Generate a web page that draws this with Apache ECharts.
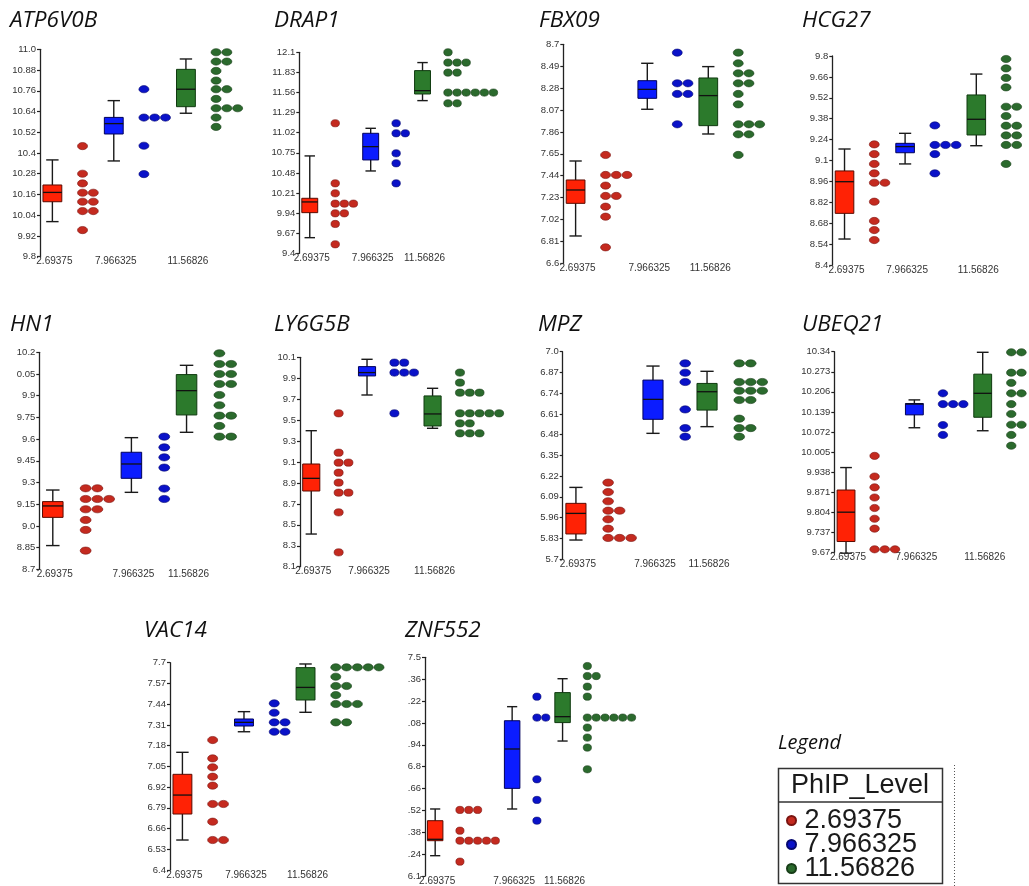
<!DOCTYPE html>
<html><head><meta charset="utf-8">
<script src="https://cdn.jsdelivr.net/npm/echarts@6/dist/echarts.min.js"></script>
<style>html,body{margin:0;padding:0;background:#fff}#c{width:1029px;height:886px}</style>
</head><body><div id="c"></div>
<script>
// ---------- DATA ----------
const groups = ['2.69375', '7.966325', '11.56826'];

// axis: [min, step]; box rows: [lowWhisker, Q1, median, Q3, highWhisker]
const ATP6V0B_axis = [9.8, 0.12];
const ATP6V0B_ticks = ['9.8','9.92','10.04','10.16','10.28','10.4','10.52','10.64','10.76','10.88','11.0'];
const ATP6V0B_low = [10.44, 10.28, 10.224, 10.17, 10.17, 10.118, 10.118, 10.064, 10.064, 9.954];
const ATP6V0B_mid = [10.769, 10.605, 10.605, 10.605, 10.442, 10.278];
const ATP6V0B_high = [10.983, 10.983, 10.929, 10.929, 10.875, 10.819, 10.769, 10.769, 10.713, 10.659, 10.659, 10.659, 10.605, 10.551];
const ATP6V0B_box = [[10.003, 10.118, 10.172, 10.215, 10.36], [10.354, 10.51, 10.57, 10.606, 10.703], [10.63, 10.668, 10.769, 10.884, 10.944]];

const DRAP1_axis = [9.4, 0.27];
const DRAP1_ticks = ['9.4','9.67','9.94','10.21','10.48','10.75','11.02','11.29','11.56','11.83','12.1'];
const DRAP1_low = [11.147, 10.34, 10.206, 10.067, 10.067, 10.067, 9.937, 9.937, 9.794, 9.521];
const DRAP1_mid = [11.147, 11.012, 11.012, 10.743, 10.609, 10.34];
const DRAP1_high = [12.1, 11.962, 11.962, 11.962, 11.827, 11.827, 11.559, 11.559, 11.559, 11.559, 11.559, 11.559, 11.415, 11.415];
const DRAP1_box = [[9.61, 9.946, 10.09, 10.139, 10.708], [10.506, 10.654, 10.833, 11.012, 11.079], [11.451, 11.54, 11.585, 11.854, 11.962]];

const FBX09_axis = [6.6, 0.21];
const FBX09_ticks = ['6.6','6.81','7.02','7.23','7.44','7.65','7.86','8.07','8.28','8.49','8.7'];
const FBX09_low = [7.639, 7.447, 7.447, 7.447, 7.345, 7.246, 7.246, 7.143, 7.047, 6.753];
const FBX09_mid = [8.62, 8.326, 8.326, 8.224, 8.224, 7.933];
const FBX09_high = [8.62, 8.518, 8.422, 8.422, 8.326, 8.326, 8.224, 8.124, 7.933, 7.933, 7.933, 7.837, 7.837, 7.639];
const FBX09_box = [[6.862, 7.175, 7.303, 7.399, 7.581], [8.077, 8.182, 8.268, 8.351, 8.518], [7.84, 7.92, 8.208, 8.377, 8.486]];

const HCG27_axis = [8.4, 0.14];
const HCG27_ticks = ['8.4','8.54','8.68','8.82','8.96','9.1','9.24','9.38','9.52','9.66','9.8'];
const HCG27_low = [9.208, 9.143, 9.077, 9.014, 8.951, 8.951, 8.824, 8.695, 8.634, 8.567];
const HCG27_mid = [9.335, 9.204, 9.204, 9.204, 9.143, 9.014];
const HCG27_high = [9.78, 9.717, 9.653, 9.59, 9.46, 9.46, 9.398, 9.333, 9.333, 9.268, 9.268, 9.204, 9.204, 9.077];
const HCG27_box = [[8.574, 8.746, 8.958, 9.03, 9.177], [9.077, 9.152, 9.193, 9.215, 9.282], [9.199, 9.271, 9.376, 9.539, 9.679]];

const HN1_axis = [8.7, 0.15];
const HN1_ticks = ['8.7','8.85','9.0','9.15','9.3','9.45','9.6','9.75','9.9','0.05','10.2'];
const HN1_low = [9.26, 9.26, 9.186, 9.186, 9.186, 9.115, 9.115, 9.041, 8.972, 8.829];
const HN1_mid = [9.617, 9.543, 9.474, 9.403, 9.258, 9.186];
const HN1_high = [10.193, 10.119, 10.119, 10.05, 10.05, 9.981, 9.981, 9.905, 9.834, 9.762, 9.762, 9.691, 9.617, 9.617];
const HN1_box = [[8.864, 9.059, 9.138, 9.168, 9.248], [9.232, 9.329, 9.428, 9.509, 9.61], [9.647, 9.767, 9.935, 10.046, 10.11]];

const LY6G5B_axis = [8.1, 0.2];
const LY6G5B_ticks = ['8.1','8.3','8.5','8.7','8.9','9.1','9.3','9.5','9.7','9.9','10.1'];
const LY6G5B_low = [9.565, 9.189, 9.094, 9.094, 8.998, 8.903, 8.807, 8.807, 8.619, 8.237];
const LY6G5B_mid = [10.049, 10.049, 9.954, 9.954, 9.954, 9.565];
const LY6G5B_high = [9.954, 9.858, 9.762, 9.762, 9.762, 9.565, 9.565, 9.565, 9.565, 9.565, 9.469, 9.469, 9.374, 9.374, 9.374];
const LY6G5B_box = [[8.412, 8.823, 8.944, 9.081, 9.399], [9.74, 9.922, 9.954, 10.011, 10.081], [9.422, 9.444, 9.559, 9.731, 9.804]];

const MPZ_axis = [5.7, 0.13];
const MPZ_ticks = ['5.7','5.83','5.96','6.09','6.22','6.35','6.48','6.61','6.74','6.87','7.0'];
const MPZ_low = [6.179, 6.12, 6.062, 6.003, 6.003, 5.949, 5.89, 5.832, 5.832, 5.832];
const MPZ_mid = [6.927, 6.868, 6.81, 6.638, 6.521, 6.467];
const MPZ_high = [6.927, 6.927, 6.81, 6.81, 6.81, 6.755, 6.755, 6.755, 6.697, 6.697, 6.58, 6.521, 6.521, 6.467];
const MPZ_box = [[5.819, 5.857, 5.986, 6.049, 6.149], [6.488, 6.576, 6.701, 6.822, 6.91], [6.53, 6.634, 6.749, 6.801, 6.877]];

const UBEQ21_axis = [9.67, 0.067];
const UBEQ21_ticks = ['9.67','9.737','9.804','9.871','9.938','10.005','10.072','10.139','10.206','10.273','10.34'];
const UBEQ21_low = [9.992, 9.923, 9.887, 9.853, 9.818, 9.782, 9.749, 9.68, 9.68, 9.68];
const UBEQ21_mid = [10.201, 10.165, 10.165, 10.165, 10.095, 10.062];
const UBEQ21_high = [10.338, 10.338, 10.338, 10.27, 10.27, 10.236, 10.201, 10.201, 10.165, 10.132, 10.096, 10.096, 10.062, 10.026];
const UBEQ21_box = [[9.667, 9.706, 9.804, 9.878, 9.953], [10.086, 10.129, 10.165, 10.167, 10.179], [10.076, 10.121, 10.201, 10.265, 10.338]];

const VAC14_axis = [6.4, 0.13];
const VAC14_ticks = ['6.4','6.53','6.66','6.79','6.92','7.05','7.18','7.31','7.44','7.57','7.7'];
const VAC14_low = [7.215, 7.1, 7.044, 6.985, 6.929, 6.814, 6.814, 6.703, 6.588, 6.588];
const VAC14_mid = [7.445, 7.386, 7.326, 7.326, 7.267, 7.267];
const VAC14_high = [7.671, 7.671, 7.671, 7.671, 7.671, 7.612, 7.554, 7.554, 7.497, 7.441, 7.441, 7.441, 7.326, 7.326];
const VAC14_box = [[6.588, 6.751, 6.87, 7.0, 7.138], [7.267, 7.303, 7.326, 7.347, 7.393], [7.389, 7.466, 7.545, 7.669, 7.692]];

const ZNF552_axis = [6.1, 0.14];
const ZNF552_ticks = ['6.1','.24','.38','.52','.66','6.8','.94','.08','.22','.36','7.5'];
const ZNF552_low = [6.523, 6.523, 6.523, 6.39, 6.326, 6.326, 6.326, 6.326, 6.326, 6.192];
const ZNF552_mid = [7.248, 7.114, 7.114, 6.719, 6.587, 6.454];
const ZNF552_high = [7.444, 7.38, 7.38, 7.312, 7.248, 7.114, 7.114, 7.114, 7.114, 7.114, 7.114, 7.05, 6.986, 6.922, 6.783];
const ZNF552_box = [[6.23, 6.326, 6.335, 6.454, 6.529], [6.529, 6.661, 6.913, 7.094, 7.184], [6.964, 7.082, 7.12, 7.274, 7.363]];

const genes = [
  {name: 'ATP6V0B', axis: ATP6V0B_axis, ticks: ATP6V0B_ticks, dots: [ATP6V0B_low, ATP6V0B_mid, ATP6V0B_high], box: ATP6V0B_box},
  {name: 'DRAP1', axis: DRAP1_axis, ticks: DRAP1_ticks, dots: [DRAP1_low, DRAP1_mid, DRAP1_high], box: DRAP1_box},
  {name: 'FBX09', axis: FBX09_axis, ticks: FBX09_ticks, dots: [FBX09_low, FBX09_mid, FBX09_high], box: FBX09_box},
  {name: 'HCG27', axis: HCG27_axis, ticks: HCG27_ticks, dots: [HCG27_low, HCG27_mid, HCG27_high], box: HCG27_box},
  {name: 'HN1', axis: HN1_axis, ticks: HN1_ticks, dots: [HN1_low, HN1_mid, HN1_high], box: HN1_box},
  {name: 'LY6G5B', axis: LY6G5B_axis, ticks: LY6G5B_ticks, dots: [LY6G5B_low, LY6G5B_mid, LY6G5B_high], box: LY6G5B_box},
  {name: 'MPZ', axis: MPZ_axis, ticks: MPZ_ticks, dots: [MPZ_low, MPZ_mid, MPZ_high], box: MPZ_box},
  {name: 'UBEQ21', axis: UBEQ21_axis, ticks: UBEQ21_ticks, dots: [UBEQ21_low, UBEQ21_mid, UBEQ21_high], box: UBEQ21_box},
  {name: 'VAC14', axis: VAC14_axis, ticks: VAC14_ticks, dots: [VAC14_low, VAC14_mid, VAC14_high], box: VAC14_box},
  {name: 'ZNF552', axis: ZNF552_axis, ticks: ZNF552_ticks, dots: [ZNF552_low, ZNF552_mid, ZNF552_high], box: ZNF552_box}
];

// ---------- LAYOUT (pixels) ----------
const layout = [
  {x: 40,    top: 49.3,  bottom: 256.7, right: 243,  tx: 10,  ty: 21},
  {x: 299.3, top: 52.3,  bottom: 253.3, right: 498,  tx: 274, ty: 21},
  {x: 563.3, top: 44.3,  bottom: 263.3, right: 765,  tx: 539, ty: 21},
  {x: 832.3, top: 56,    bottom: 265,   right: 1022, tx: 802, ty: 21},
  {x: 39.3,  top: 352.3, bottom: 569.3, right: 237,  tx: 10,  ty: 325},
  {x: 300,   top: 357.3, bottom: 566.7, right: 504,  tx: 274, ty: 325},
  {x: 562.7, top: 351.7, bottom: 559,   right: 768,  tx: 538, ty: 325},
  {x: 834.3, top: 351.7, bottom: 552.3, right: 1029, unit: 10.2, tx: 802, ty: 325},
  {x: 170,   top: 662.7, bottom: 870,   right: 381,  unit: 10.8, tx: 144, ty: 631},
  {x: 425,   top: 657.3, bottom: 876,   right: 636,  tx: 405, ty: 631}
];
const OFFSET = 2.8, GAP = 1.9, PADL = 1.15;
const boxFill = ['#ff2205', '#0b1cff', '#2c7a2c'];
const boxStroke = ['#5a0a00', '#00005a', '#0f3a0f'];
const dotFill = ['#c42a1f', '#0a12c8', '#2b6a2d'];
const dotStroke = ['#7a1410', '#050870', '#173d18'];
const labelFont = '"Liberation Sans Narrow", "Liberation Sans", Arial, sans-serif';

const grid = [], xAxis = [], yAxis = [], series = [], title = [];

genes.forEach((gene, i) => {
  const L = layout[i];
  const [ymin, ystep] = gene.axis;
  const nT = gene.ticks.length - 1;
  const toY = v => (v - ymin) / ystep;
  let pos = 0, lastDot = 0;
  const boxData = [];
  const dotData = [[], [], []];
  for (let g = 0; g < 3; g++) {
    const b = gene.box[g];
    boxData.push([pos, toY(b[0]), toY(b[1]), toY(b[2]), toY(b[3]), toY(b[4]), g]);
    const start = pos + OFFSET;
    const counts = {};
    let maxK = 0;
    gene.dots[g].forEach(v => {
      const key = String(v);
      const k = counts[key] || 0;
      counts[key] = k + 1;
      dotData[g].push([start + k, toY(v)]);
      if (k > maxK) maxK = k;
    });
    lastDot = start + maxK;
    pos = lastDot + GAP;
  }
  const xmin = -PADL;
  const width = L.right - L.x;
  let xmax, unit;
  if (L.unit) { unit = L.unit; xmax = xmin + width / unit; }
  else { xmax = lastDot + 0.5; unit = width / (xmax - xmin); }

  grid.push({left: L.x, top: L.top, width: width, height: L.bottom - L.top,
    containLabel: false, outerBoundsMode: 'none'});
  xAxis.push({type: 'value', gridIndex: i, min: xmin, max: xmax, show: false});
  yAxis.push({type: 'value', gridIndex: i, min: 0, max: nT, interval: 1, position: 'left',
    axisLine: {show: true, onZero: false, lineStyle: {color: '#222', width: 1.3}},
    axisTick: {show: true, inside: false, length: 3, lineStyle: {color: '#222', width: 1.2}},
    splitLine: {show: false},
    axisLabel: {margin: 4, fontSize: 9.5, color: '#333', fontFamily: labelFont,
      formatter: v => gene.ticks[Math.round(v)]}
  });
  title.push({text: gene.name, left: L.tx, top: L.ty - 15, padding: 0,
    textStyle: {fontFamily: '"Open Sans", "Noto Sans", sans-serif', fontStyle: 'italic',
      fontWeight: 'normal', fontSize: 22.5, color: '#111', lineHeight: 30}});

  series.push({
    type: 'custom', xAxisIndex: i, yAxisIndex: i, clip: false, silent: true,
    data: boxData,
    renderItem: function (params, api) {
      const x = api.value(0), g = api.value(6);
      const lo = api.coord([x, api.value(1)]);
      const q1 = api.coord([x, api.value(2)]);
      const md = api.coord([x, api.value(3)]);
      const q3 = api.coord([x, api.value(4)]);
      const hi = api.coord([x, api.value(5)]);
      const base = api.coord([x, 0]);
      const u = api.size([1, 0])[0];
      const bw = u * 1.75, cw = u * 1.15, cx = lo[0];
      const ls = {stroke: '#1a1a1a', lineWidth: 1.4};
      return {type: 'group', children: [
        {type: 'line', shape: {x1: cx, y1: hi[1], x2: cx, y2: lo[1]}, style: ls},
        {type: 'line', shape: {x1: cx - cw / 2, y1: hi[1], x2: cx + cw / 2, y2: hi[1]}, style: ls},
        {type: 'line', shape: {x1: cx - cw / 2, y1: lo[1], x2: cx + cw / 2, y2: lo[1]}, style: ls},
        {type: 'rect', shape: {x: cx - bw / 2, y: q3[1], width: bw, height: q1[1] - q3[1]},
          style: {fill: boxFill[g], stroke: boxStroke[g], lineWidth: 1}},
        {type: 'line', shape: {x1: cx - bw / 2, y1: md[1], x2: cx + bw / 2, y2: md[1]}, style: {stroke: '#111', lineWidth: 1.3}},
        {type: 'text', x: cx + 2, y: base[1] + 5,
          style: {text: groups[g], fill: '#333', fontSize: 10, fontFamily: labelFont,
            align: 'center', verticalAlign: 'middle', textAlign: 'center', textVerticalAlign: 'middle'}}
      ]};
    }
  });
  for (let g = 0; g < 3; g++) {
    series.push({
      type: 'scatter', name: groups[g], xAxisIndex: i, yAxisIndex: i, clip: true,
      symbol: 'circle', symbolSize: [unit * 0.93, 7.2],
      itemStyle: {color: dotFill[g], borderColor: dotStroke[g], borderWidth: 0.6, opacity: 1},
      data: dotData[g], silent: true
    });
  }
});

const chart = echarts.init(document.getElementById('c'), null, {renderer: 'canvas'});
chart.setOption({
  backgroundColor: '#fff',
  animation: false,
  title: title,
  grid: grid, xAxis: xAxis, yAxis: yAxis, series: series,
  legend: {
    data: groups, orient: 'vertical', left: 786, top: 807, padding: 0, height: 120,
    itemGap: -3, itemWidth: 10, itemHeight: 9, icon: 'circle', selectedMode: false,
    textStyle: {fontFamily: '"Liberation Sans", Arial, sans-serif', fontSize: 27, color: '#1a1a1a',
      lineHeight: 24, padding: [0, 0, 0, 3]}
  },
  graphic: [
    {type: 'text', left: 778, top: 733, style: {text: 'Legend', fontFamily: '"Open Sans", "Noto Sans", sans-serif',
      fontStyle: 'italic', fontSize: 20, fill: '#111'}},
    {type: 'rect', shape: {x: 778.5, y: 768.5, width: 164, height: 115}, style: {fill: 'none', stroke: '#333', lineWidth: 1.5}},
    {type: 'line', shape: {x1: 778.5, y1: 802, x2: 942.5, y2: 802}, style: {stroke: '#333', lineWidth: 1.5}},
    {type: 'text', x: 860, y: 786, style: {text: 'PhIP_Level', fontFamily: '"Liberation Sans", Arial, sans-serif',
      fontSize: 27, fill: '#1a1a1a', align: 'center', verticalAlign: 'middle', textAlign: 'center', textVerticalAlign: 'middle'}},
    {type: 'line', shape: {x1: 954.5, y1: 765, x2: 954.5, y2: 886}, style: {stroke: '#555', lineWidth: 1, lineDash: [1, 2]}}
  ]
});
</script>
</body></html>
